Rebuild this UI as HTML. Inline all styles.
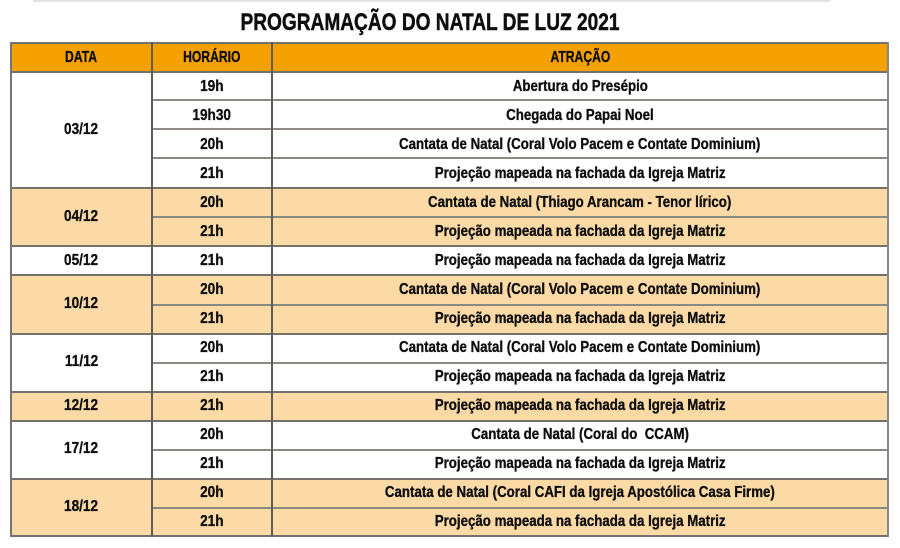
<!DOCTYPE html>
<html>
<head>
<meta charset="utf-8">
<style>
  html, body { margin:0; padding:0; }
  body { width:900px; height:548px; background:#ffffff; position:relative; overflow:hidden;
         font-family:"Liberation Sans", Arial, sans-serif; font-weight:bold; color:#0e0e0e; }
  .topbar { position:absolute; left:33px; top:0; width:797px; height:2px; background:#e2e2e2; }
  .title { position:absolute; left:0; width:860px; top:8px; height:30px; line-height:30px; text-align:center; font-size:24.5px; -webkit-text-stroke:0.5px #0e0e0e; }
  .title span { display:inline-block; transform:scaleX(0.78); transform-origin:center; white-space:nowrap; }
  .bg { position:absolute; }
  .hline { position:absolute; height:2px; background:#8c8883; }
  .hline.dark { background:#75716c; }
  .vline { position:absolute; width:2px; background:#5e5b57; }
  .cell { position:absolute; text-align:center; font-size:16px; white-space:nowrap; -webkit-text-stroke:0.35px #0e0e0e; }
  .cell span { display:inline-block; transform:scaleX(0.85); transform-origin:center; }
  .cell.att span { transform:scaleX(0.83); }
  .cell.hd { font-size:16px; }
  .cell.hd span { transform:scaleX(0.76); }
</style>
</head>
<body>
<div class="topbar"></div>
<div class="title"><span>PROGRAMAÇÃO DO NATAL DE LUZ 2021</span></div>

<div class="bg" style="left:11px;top:42px;width:877px;height:30px;background:#f6a102;"></div>

<div class="bg" style="left:11px;top:188px;width:877px;height:58px;background:#fcdaa6;"></div>
<div class="bg" style="left:11px;top:275px;width:877px;height:58px;background:#fcdaa6;"></div>
<div class="bg" style="left:11px;top:391px;width:877px;height:29px;background:#fcdaa6;"></div>
<div class="bg" style="left:11px;top:478px;width:877px;height:58px;background:#fcdaa6;"></div>

<div class="hline" style="left:152px;top:99px;width:736px;"></div>
<div class="hline" style="left:152px;top:128px;width:736px;"></div>
<div class="hline" style="left:152px;top:157px;width:736px;"></div>
<div class="hline" style="left:152px;top:216px;width:736px;"></div>
<div class="hline" style="left:152px;top:304px;width:736px;"></div>
<div class="hline" style="left:152px;top:362px;width:736px;"></div>
<div class="hline" style="left:152px;top:449px;width:736px;"></div>
<div class="hline" style="left:152px;top:507px;width:736px;"></div>

<div class="hline dark" style="left:11px;top:42px;width:877px;"></div>
<div class="hline dark" style="left:11px;top:71px;width:877px;"></div>
<div class="hline dark" style="left:11px;top:187px;width:877px;"></div>
<div class="hline dark" style="left:11px;top:245px;width:877px;"></div>
<div class="hline dark" style="left:11px;top:274px;width:877px;"></div>
<div class="hline dark" style="left:11px;top:333px;width:877px;"></div>
<div class="hline dark" style="left:11px;top:391px;width:877px;"></div>
<div class="hline dark" style="left:11px;top:420px;width:877px;"></div>
<div class="hline dark" style="left:11px;top:478px;width:877px;"></div>
<div class="hline dark" style="left:11px;top:535px;width:877px;"></div>

<div class="vline" style="left:10px;top:42px;height:495px;background:#77736e;"></div>
<div class="vline" style="left:151px;top:42px;height:495px;"></div>
<div class="vline" style="left:271px;top:42px;height:495px;"></div>
<div class="vline" style="left:887px;top:42px;height:495px;background:#8a8682;"></div>

<div class="cell hd" style="left:11px;width:141px;top:42px;height:30px;line-height:31px;"><span>DATA</span></div>
<div class="cell hd" style="left:152px;width:120px;top:42px;height:30px;line-height:31px;"><span>HORÁRIO</span></div>
<div class="cell hd" style="left:272px;width:616px;top:42px;height:30px;line-height:31px;"><span>ATRAÇÃO</span></div>

<div class="cell" style="left:11px;width:141px;top:72px;height:116px;line-height:116px;"><span>03/12</span></div>
<div class="cell" style="left:11px;width:141px;top:188px;height:58px;line-height:58px;"><span>04/12</span></div>
<div class="cell" style="left:11px;width:141px;top:246px;height:29px;line-height:30px;"><span>05/12</span></div>
<div class="cell" style="left:11px;width:141px;top:275px;height:58px;line-height:58px;"><span>10/12</span></div>
<div class="cell" style="left:11px;width:141px;top:333px;height:58px;line-height:58px;"><span>11/12</span></div>
<div class="cell" style="left:11px;width:141px;top:391px;height:29px;line-height:30px;"><span>12/12</span></div>
<div class="cell" style="left:11px;width:141px;top:420px;height:58px;line-height:58px;"><span>17/12</span></div>
<div class="cell" style="left:11px;width:141px;top:478px;height:58px;line-height:58px;"><span>18/12</span></div>

<div class="cell" style="left:152px;width:120px;top:72px;height:29px;line-height:30px;"><span>19h</span></div>
<div class="cell" style="left:152px;width:120px;top:101px;height:29px;line-height:30px;"><span>19h30</span></div>
<div class="cell" style="left:152px;width:120px;top:130px;height:29px;line-height:30px;"><span>20h</span></div>
<div class="cell" style="left:152px;width:120px;top:159px;height:29px;line-height:30px;"><span>21h</span></div>
<div class="cell" style="left:152px;width:120px;top:188px;height:29px;line-height:30px;"><span>20h</span></div>
<div class="cell" style="left:152px;width:120px;top:217px;height:29px;line-height:30px;"><span>21h</span></div>
<div class="cell" style="left:152px;width:120px;top:246px;height:29px;line-height:30px;"><span>21h</span></div>
<div class="cell" style="left:152px;width:120px;top:275px;height:29px;line-height:30px;"><span>20h</span></div>
<div class="cell" style="left:152px;width:120px;top:304px;height:29px;line-height:30px;"><span>21h</span></div>
<div class="cell" style="left:152px;width:120px;top:333px;height:29px;line-height:30px;"><span>20h</span></div>
<div class="cell" style="left:152px;width:120px;top:362px;height:29px;line-height:30px;"><span>21h</span></div>
<div class="cell" style="left:152px;width:120px;top:391px;height:29px;line-height:30px;"><span>21h</span></div>
<div class="cell" style="left:152px;width:120px;top:420px;height:29px;line-height:30px;"><span>20h</span></div>
<div class="cell" style="left:152px;width:120px;top:449px;height:29px;line-height:30px;"><span>21h</span></div>
<div class="cell" style="left:152px;width:120px;top:478px;height:29px;line-height:30px;"><span>20h</span></div>
<div class="cell" style="left:152px;width:120px;top:507px;height:29px;line-height:30px;"><span>21h</span></div>

<div class="cell att" style="left:272px;width:616px;top:72px;height:29px;line-height:30px;"><span>Abertura do Presépio</span></div>
<div class="cell att" style="left:272px;width:616px;top:101px;height:29px;line-height:30px;"><span>Chegada do Papai Noel</span></div>
<div class="cell att" style="left:272px;width:616px;top:130px;height:29px;line-height:30px;"><span>Cantata de Natal (Coral Volo Pacem e Contate Dominium)</span></div>
<div class="cell att" style="left:272px;width:616px;top:159px;height:29px;line-height:30px;"><span>Projeção mapeada na fachada da Igreja Matriz</span></div>
<div class="cell att" style="left:272px;width:616px;top:188px;height:29px;line-height:30px;"><span>Cantata de Natal (Thiago Arancam - Tenor lírico)</span></div>
<div class="cell att" style="left:272px;width:616px;top:217px;height:29px;line-height:30px;"><span>Projeção mapeada na fachada da Igreja Matriz</span></div>
<div class="cell att" style="left:272px;width:616px;top:246px;height:29px;line-height:30px;"><span>Projeção mapeada na fachada da Igreja Matriz</span></div>
<div class="cell att" style="left:272px;width:616px;top:275px;height:29px;line-height:30px;"><span>Cantata de Natal (Coral Volo Pacem e Contate Dominium)</span></div>
<div class="cell att" style="left:272px;width:616px;top:304px;height:29px;line-height:30px;"><span>Projeção mapeada na fachada da Igreja Matriz</span></div>
<div class="cell att" style="left:272px;width:616px;top:333px;height:29px;line-height:30px;"><span>Cantata de Natal (Coral Volo Pacem e Contate Dominium)</span></div>
<div class="cell att" style="left:272px;width:616px;top:362px;height:29px;line-height:30px;"><span>Projeção mapeada na fachada da Igreja Matriz</span></div>
<div class="cell att" style="left:272px;width:616px;top:391px;height:29px;line-height:30px;"><span>Projeção mapeada na fachada da Igreja Matriz</span></div>
<div class="cell att" style="left:272px;width:616px;top:420px;height:29px;line-height:30px;"><span>Cantata de Natal (Coral do&nbsp; CCAM)</span></div>
<div class="cell att" style="left:272px;width:616px;top:449px;height:29px;line-height:30px;"><span>Projeção mapeada na fachada da Igreja Matriz</span></div>
<div class="cell att" style="left:272px;width:616px;top:478px;height:29px;line-height:30px;"><span>Cantata de Natal (Coral CAFI da Igreja Apostólica Casa Firme)</span></div>
<div class="cell att" style="left:272px;width:616px;top:507px;height:29px;line-height:30px;"><span>Projeção mapeada na fachada da Igreja Matriz</span></div>
</body>
</html>
